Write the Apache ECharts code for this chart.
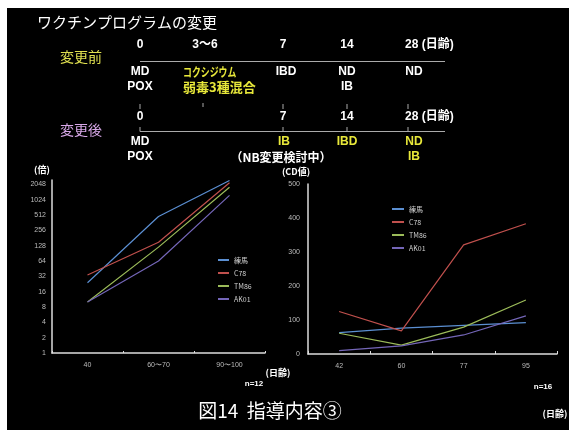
<!DOCTYPE html>
<html>
<head>
<meta charset="utf-8">
<script src="https://cdn.jsdelivr.net/npm/echarts@6/dist/echarts.min.js"></script>
<style>
html, body { margin: 0; background: #fff; }
#main { width: 569px; height: 430px; }
</style>
</head>
<body>
<div id="main"></div>
<script>
// 株名と色
var strains = ['練馬', 'C78', 'TM86', 'AK01'];
var colors = ['#5b8fd2', '#c0504d', '#9bbb59', '#7466b8'];

// 左グラフ（倍）
var hiDays = ['40', '60〜70', '90〜100'];
var hiNerima = [24, 480, 2450];
var hiC78 = [34, 150, 2200];
var hiTM86 = [10, 120, 1800];
var hiAK01 = [10, 64, 1250];
var hiTicks = [1, 2, 4, 8, 16, 32, 64, 128, 256, 512, 1024, 2048];

// 右グラフ
var elDays = ['42', '60', '77', '95'];
var elNerima = [63, 76, 84, 92];
var elC78 = [125, 68, 321, 383];
var elTM86 = [61, 26, 79, 159];
var elAK01 = [10, 24, 56, 112];

var jp = "'Noto Sans CJK JP', sans-serif";
var bold = "bold 12px 'Liberation Sans', 'Noto Sans CJK JP', sans-serif";
var yellow = '#e8e83a';
var white = '#fff';

function txt(s, x, y, font, fill, align) {
  return {
    type: 'text', x: x, y: y, silent: true,
    style: {
      text: s, font: font, fill: fill || white,
      align: align || 'center', verticalAlign: 'middle',
      textAlign: align || 'center', textVerticalAlign: 'middle'
    }
  };
}
function ln(x1, y1, x2, y2) {
  return { type: 'line', silent: true, shape: { x1: x1, y1: y1, x2: x2, y2: y2 }, style: { stroke: '#aaa', lineWidth: 1 } };
}

// 細いカタカナ
var kok = txt('コクシジウム', 183, 72, 'bold 12px ' + jp, yellow, 'left');
kok.scaleX = 0.74;

var graphic = [
  // 余白
  { type: 'rect', shape: { x: 0, y: 0, width: 569, height: 8 }, style: { fill: '#fff' } },
  { type: 'rect', shape: { x: 0, y: 0, width: 7, height: 430 }, style: { fill: '#fff' } },

  txt('ワクチンプログラムの変更', 37, 22, '15px ' + jp, white, 'left'),

  // 変更前
  txt('0', 140, 45, bold), txt('3〜6', 205, 45, bold), txt('7', 283, 45, bold),
  txt('14', 347, 45, bold), txt('28 (日齢)', 405, 45, bold, white, 'left'),
  txt('変更前', 60, 57, '14px ' + jp, '#e0e050', 'left'),
  ln(140, 61.5, 445, 61.5),
  txt('MD', 140, 72, bold), kok,
  txt('IBD', 286, 72, bold), txt('ND', 347, 72, bold), txt('ND', 414, 72, bold),
  txt('POX', 140, 87, bold), txt('弱毒3種混合', 183, 87, 'bold 13px ' + jp, yellow, 'left'),
  txt('IB', 347, 87, bold),

  // 変更後
  ln(140, 104, 140, 109), ln(203, 103, 203, 107), ln(283, 104, 283, 109),
  ln(347, 104, 347, 109), ln(408, 104, 408, 109),
  txt('0', 140, 117, bold), txt('7', 283, 117, bold), txt('14', 347, 117, bold),
  txt('28 (日齢)', 405, 117, bold, white, 'left'),
  txt('変更後', 60, 130, '14px ' + jp, '#d8a8e8', 'left'),
  ln(140, 131.5, 445, 131.5),
  ln(140, 127, 140, 131.5), ln(283, 127, 283, 131.5), ln(347, 127, 347, 131.5), ln(408, 127, 408, 131.5),
  txt('MD', 140, 142, bold), txt('IB', 284, 142, bold, yellow), txt('IBD', 347, 142, bold, yellow),
  txt('ND', 414, 142, bold, yellow),
  txt('POX', 140, 157, bold), txt('（NB変更検討中）', 281, 157, 'bold 12px ' + jp),
  txt('IB', 414, 157, bold, yellow),

  // 軸名など
  txt('(倍)', 42, 170, 'bold 9px ' + jp),
  txt('(CD値)', 296, 172, 'bold 9px ' + jp),
  txt('(日齢)', 278, 373, 'bold 9px ' + jp),
  txt('n=12', 254, 384, "bold 8px 'Liberation Sans'"),
  txt('n=16', 543, 387, "bold 8px 'Liberation Sans'"),
  txt('(日齢)', 555, 414, 'bold 9px ' + jp),
  txt('図14  指導内容③', 270, 411, '19px ' + jp)
];

var axisLine = { lineStyle: { color: '#ddd', width: 1.5 } };
var axisLabel = { color: '#bbb', fontSize: 7, fontFamily: 'Liberation Sans' };

function mk(name, data, i, axis) {
  return {
    name: name, type: 'line', data: data, xAxisIndex: axis, yAxisIndex: axis,
    symbol: 'none', lineStyle: { width: 1.2, color: colors[i] }, itemStyle: { color: colors[i] }
  };
}

var chart = echarts.init(document.getElementById('main'));
chart.setOption({
  backgroundColor: '#000',
  animation: false,
  color: colors,
  graphic: graphic,
  legend: [
    {
      data: strains, orient: 'vertical', left: 213, top: 251,
      itemWidth: 11, itemHeight: 2, itemGap: 5, icon: 'rect',
      textStyle: { color: '#ccc', fontSize: 7, lineHeight: 8, fontFamily: jp }
    },
    {
      data: strains, orient: 'vertical', left: 387, top: 200,
      itemWidth: 12, itemHeight: 2, itemGap: 5, icon: 'rect',
      textStyle: { color: '#ccc', fontSize: 7, lineHeight: 8, fontFamily: jp }
    }
  ],
  grid: [
    { left: 52, top: 180, width: 213, height: 173 },
    { left: 308, top: 184, width: 249, height: 170 }
  ],
  xAxis: [
    {
      gridIndex: 0, type: 'category', data: hiDays, boundaryGap: true,
      axisLine: axisLine, axisLabel: Object.assign({ margin: 9 }, axisLabel),
      axisTick: { show: true, inside: true, length: 2, lineStyle: { color: '#ddd' } }
    },
    {
      gridIndex: 1, type: 'category', data: elDays, boundaryGap: true,
      axisLine: axisLine, axisLabel: Object.assign({ margin: 9 }, axisLabel),
      axisTick: { show: true, inside: true, length: 3, lineStyle: { color: '#ddd' } }
    }
  ],
  yAxis: [
    {
      gridIndex: 0, type: 'log', logBase: 2, min: 1, max: 2500, interval: 1, splitNumber: 11,
      axisLine: Object.assign({ show: true }, axisLine), axisTick: { show: false },
      splitLine: { show: false },
      axisLabel: Object.assign({
        margin: 6, showMaxLabel: false,
        formatter: function (v) { return hiTicks.indexOf(Math.round(v)) >= 0 && Math.abs(v - Math.round(v)) < 0.01 ? String(Math.round(v)) : ''; }
      }, axisLabel)
    },
    {
      gridIndex: 1, type: 'value', min: 0, max: 500, interval: 100,
      axisLine: Object.assign({ show: true }, axisLine), axisTick: { show: false },
      splitLine: { show: false },
      axisLabel: Object.assign({ margin: 8 }, axisLabel)
    }
  ],
  series: [
    mk(strains[0], hiNerima, 0, 0), mk(strains[1], hiC78, 1, 0),
    mk(strains[2], hiTM86, 2, 0), mk(strains[3], hiAK01, 3, 0),
    mk(strains[0], elNerima, 0, 1), mk(strains[1], elC78, 1, 1),
    mk(strains[2], elTM86, 2, 1), mk(strains[3], elAK01, 3, 1)
  ]
});
</script>
</body>
</html>
